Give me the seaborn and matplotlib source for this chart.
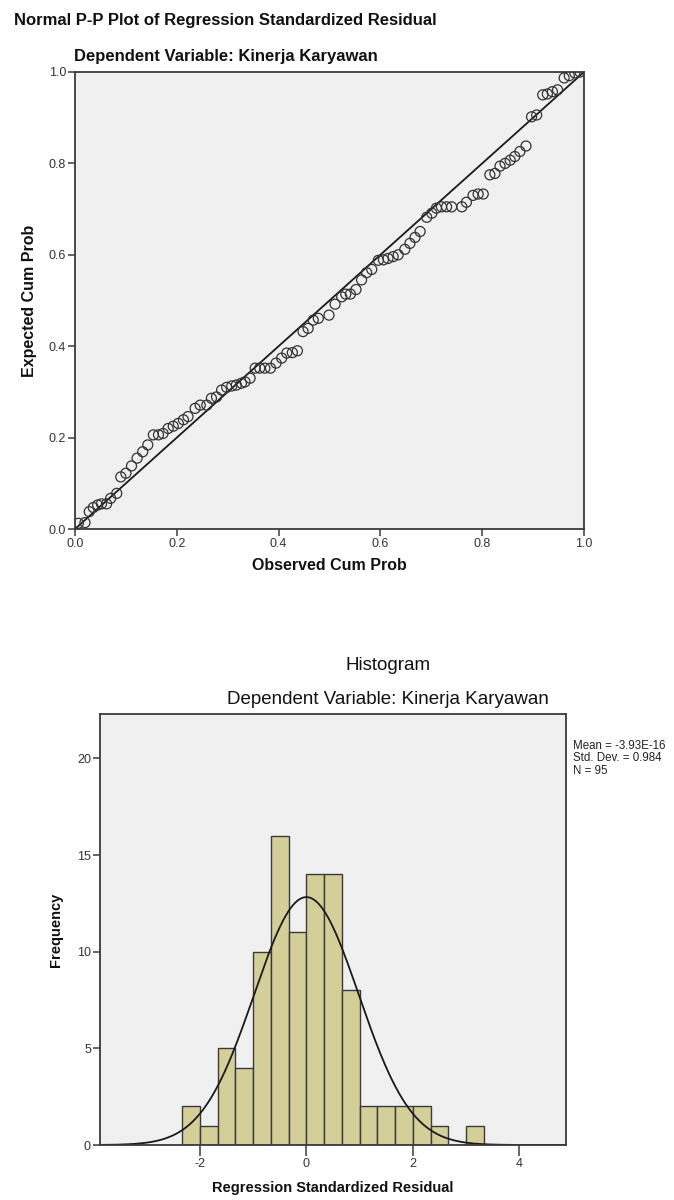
import numpy as np
import pandas as pd
import matplotlib
matplotlib.use("Agg")
import matplotlib.pyplot as plt
import seaborn as sns

# ---------------- data ----------------
observed_cum_prob = [0.0065, 0.0196, 0.028, 0.036, 0.0445, 0.052, 0.062, 0.070, 0.082, 0.090,
                     0.100, 0.111, 0.122, 0.133, 0.143, 0.154, 0.164, 0.173, 0.183, 0.193,
                     0.203, 0.213, 0.222, 0.236, 0.246, 0.259, 0.268, 0.278, 0.288, 0.298,
                     0.308, 0.317, 0.327, 0.334, 0.344, 0.354, 0.363, 0.373, 0.384, 0.395,
                     0.406, 0.416, 0.427, 0.437, 0.448, 0.458, 0.468, 0.478, 0.499,
                     0.511, 0.524, 0.532, 0.541, 0.552, 0.563, 0.573, 0.583, 0.596, 0.606,
                     0.615, 0.625, 0.635, 0.648, 0.658, 0.668, 0.678, 0.691, 0.701, 0.710,
                     0.720, 0.730, 0.740, 0.760, 0.769, 0.782, 0.792, 0.802, 0.815,
                     0.825, 0.835, 0.845, 0.855, 0.864, 0.874, 0.886, 0.897, 0.907, 0.919,
                     0.928, 0.938, 0.948, 0.961, 0.971, 0.982, 0.992]
expected_cum_prob = [0.0125, 0.014, 0.038, 0.047, 0.0525, 0.055, 0.055, 0.067, 0.078, 0.114,
                     0.122, 0.138, 0.155, 0.169, 0.184, 0.206, 0.206, 0.209, 0.220, 0.225,
                     0.231, 0.239, 0.246, 0.264, 0.271, 0.271, 0.286, 0.289, 0.304, 0.310,
                     0.313, 0.315, 0.319, 0.322, 0.330, 0.352, 0.352, 0.352, 0.352, 0.363,
                     0.374, 0.385, 0.386, 0.390, 0.432, 0.439, 0.457, 0.461, 0.468,
                     0.492, 0.508, 0.514, 0.514, 0.524, 0.545, 0.561, 0.568, 0.588, 0.589,
                     0.592, 0.596, 0.600, 0.612, 0.625, 0.638, 0.651, 0.682, 0.691, 0.702,
                     0.705, 0.705, 0.705, 0.705, 0.715, 0.730, 0.733, 0.733, 0.775,
                     0.778, 0.794, 0.800, 0.807, 0.815, 0.826, 0.838, 0.902, 0.906, 0.950,
                     0.952, 0.957, 0.961, 0.987, 0.992, 0.998, 1.0]
reference_line = [0.0, 1.0]
pp_ticks = [0.0, 0.2, 0.4, 0.6, 0.8, 1.0]
pp_ticklabels = ["0.0", "0.2", "0.4", "0.6", "0.8", "1.0"]

bin_edges = [-2.333, -2.0, -1.667, -1.333, -1.0, -0.667, -0.333, 0.0, 0.333, 0.667,
             1.0, 1.333, 1.667, 2.0, 2.333, 2.667, 3.0, 3.333]
bin_counts = [2, 1, 5, 4, 10, 16, 11, 14, 14, 8, 2, 2, 2, 2, 1, 0, 1]
hist_xticks = [-2, 0, 2, 4]
hist_xticklabels = ["-2", "0", "2", "4"]
hist_yticks = [0, 5, 10, 15, 20]
resid_mean = -3.93e-16
resid_sd = 0.984
resid_n = 95

# ---------------- style ----------------
sns.set_theme(style="white")
plt.rcParams["font.family"] = ["Liberation Sans", "DejaVu Sans"]
plt.rcParams["axes.unicode_minus"] = False

BG = "#f0f0f0"
BAR = "#d4cf99"

fig = plt.figure(figsize=(6.74, 12.0), dpi=100)
fig.patch.set_facecolor("white")

def style_axes(ax):
    ax.set_facecolor(BG)
    for s in ax.spines.values():
        s.set_visible(True)
        s.set_color("#3a3a3a")
        s.set_linewidth(1.3)
    ax.tick_params(axis="both", which="major", direction="out", length=5, width=1.1,
                   color="#3a3a3a", labelsize=9, labelcolor="#333333", pad=1.5,
                   bottom=True, left=True, top=False, right=False)

# ---------------- P-P plot ----------------
ax1 = fig.add_axes([75 / 674, 1 - 529 / 1200, 509 / 674, 457 / 1200])
style_axes(ax1)
pp = pd.DataFrame({"obs": observed_cum_prob, "exp": expected_cum_prob})
sns.lineplot(x=reference_line, y=reference_line, ax=ax1, color="#1a1a1a", lw=1.3)
sns.scatterplot(data=pp, x="obs", y="exp", ax=ax1, marker="o", s=52,
                facecolor="none", edgecolor="#333333", linewidth=0.9, zorder=3)
ax1.set_xlim(0, 1)
ax1.set_ylim(0, 1)
ax1.set_xticks(pp_ticks)
ax1.set_xticklabels(pp_ticklabels)
ax1.set_yticks(pp_ticks)
ax1.set_yticklabels(pp_ticklabels)
ax1.set_xlabel("Observed Cum Prob", fontsize=11.5, fontweight="bold", color="#111111", labelpad=6)
ax1.set_ylabel("Expected Cum Prob", fontsize=11.5, fontweight="bold", color="#111111", labelpad=8)

fig.text(14 / 674, 1 - 20 / 1200, "Normal P-P Plot of Regression Standardized Residual",
         ha="left", va="center", fontsize=12, fontweight="bold", color="#111111")
fig.text(226 / 674, 1 - 57 / 1200, "Dependent Variable: Kinerja Karyawan",
         ha="center", va="center", fontsize=12, fontweight="bold", color="#111111")

# ---------------- Histogram ----------------
ax2 = fig.add_axes([100 / 674, 1 - 1145 / 1200, 466 / 674, 431 / 1200])
style_axes(ax2)
centers = [(a + b) / 2 for a, b in zip(bin_edges[:-1], bin_edges[1:])]
sns.histplot(x=centers, weights=bin_counts, bins=bin_edges, ax=ax2,
             color=BAR, alpha=1.0, edgecolor="#3a3a3a", linewidth=1.0)
xs = np.linspace(-3.88, 4.88, 400)
bw = bin_edges[1] - bin_edges[0]
ys = resid_n * bw / (resid_sd * np.sqrt(2 * np.pi)) * np.exp(-0.5 * ((xs - resid_mean) / resid_sd) ** 2)
sns.lineplot(x=xs, y=ys, ax=ax2, color="#1a1a1a", lw=1.3)
ax2.set_xlim(-3.88, 4.88)
ax2.set_ylim(0, 22.3)
ax2.set_xticks(hist_xticks)
ax2.set_xticklabels(hist_xticklabels)
ax2.set_yticks(hist_yticks)
ax2.tick_params(axis="x", length=8)
ax2.set_xlabel("Regression Standardized Residual", fontsize=10.5, fontweight="bold",
               color="#111111", labelpad=8)
ax2.set_ylabel("Frequency", fontsize=10.5, fontweight="bold", color="#111111", labelpad=10)

fig.text(388 / 674, 1 - 665 / 1200, "Histogram", ha="center", va="center",
         fontsize=13.5, color="#111111")
fig.text(388 / 674, 1 - 700 / 1200, "Dependent Variable: Kinerja Karyawan", ha="center",
         va="center", fontsize=13.5, color="#111111")
fig.text(573 / 674, 1 - 740 / 1200,
         f"Mean = -3.93E-16\nStd. Dev. = {resid_sd:.3f}\nN = {resid_n}",
         ha="left", va="top", fontsize=8.3, color="#222222", linespacing=1.05)

fig.savefig("out.png", dpi=100, facecolor="white")
